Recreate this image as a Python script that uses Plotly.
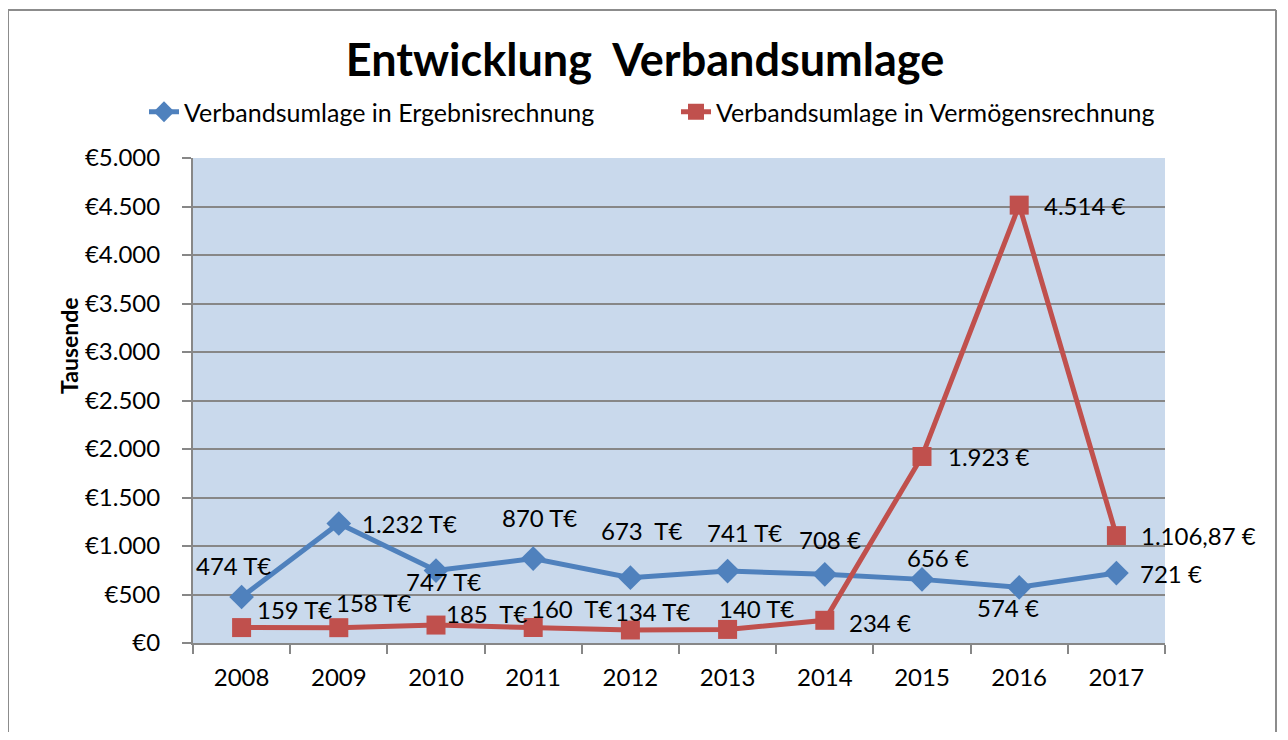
import plotly.graph_objects as go

years = ["2008", "2009", "2010", "2011", "2012", "2013", "2014", "2015", "2016", "2017"]
ergebnis = [474, 1232, 747, 870, 673, 741, 708, 656, 574, 721]
vermoegen = [159, 158, 185, 160, 134, 140, 234, 1923, 4514, 1106.87]
ergebnis_labels = ["474 T€", "1.232 T€", "747 T€", "870 T€", "673  T€", "741 T€", "708 €", "656 €", "574 €", "721 €"]
vermoegen_labels = ["159 T€", "158 T€", "185  T€", "160  T€", "134 T€", "140 T€", "234 €", "1.923 €", "4.514 €", "1.106,87 €"]
# label offsets in pixels (dx, dy) relative to the point
ergebnis_off = [(-8, 32), (71, 0), (7, -11), (6, 41), (12, 47), (17, 39), (5, 35), (16, 22), (-11, -20), (55, 0)]
vermoegen_off = [(53, 18), (35, 25), (51, 12), (39, 19), (22, 19), (29, 21), (55, -2), (66, 0), (65, 0), (82, 0)]

BLUE = "#4F81BD"
RED = "#C0504D"
GRID = "#878787"
FONT = "Lato"

OFF = 8  # page body margin
L, R, T, B = 193 - OFF, 1165 - OFF, 158 - OFF, 643 - OFF
W, H = 1280, 724

fig = go.Figure()
fig.add_trace(go.Scatter(
    x=years, y=ergebnis, mode="lines+markers", name="Verbandsumlage in Ergebnisrechnung",
    line=dict(color=BLUE, width=5), marker=dict(symbol="diamond", size=19, color=BLUE)))
fig.add_trace(go.Scatter(
    x=years, y=vermoegen, mode="lines+markers", name="Verbandsumlage in Vermögensrechnung",
    line=dict(color=RED, width=5), marker=dict(symbol="square", size=19, color=RED)))

annotations = []
for i, (v, t, (dx, dy)) in enumerate(zip(ergebnis, ergebnis_labels, ergebnis_off)):
    annotations.append(dict(x=i, y=v, xref="x", yref="y", text=t, showarrow=False,
                            xanchor="center", yanchor="middle",
                            xshift=dx, yshift=dy, font=dict(family=FONT, size=24, color="black")))
for i, (v, t, (dx, dy)) in enumerate(zip(vermoegen, vermoegen_labels, vermoegen_off)):
    annotations.append(dict(x=i, y=v, xref="x", yref="y", text=t, showarrow=False,
                            xanchor="center", yanchor="middle",
                            xshift=dx, yshift=dy, font=dict(family=FONT, size=24, color="black")))
pw, ph = R - L, B - T
annotations.append(dict(text="<b>Tausende</b>", textangle=-90, xref="paper", yref="paper",
                        x=(69 - OFF - L) / pw, y=(B - (346 - OFF)) / ph, showarrow=False,
                        xanchor="center", yanchor="middle",
                        font=dict(family=FONT, size=23, color="black")))

BORDER = "#8C8C8C"
bx0 = (8 - OFF - L) / pw
bx1 = (1268 - L) / pw
by_top = (B - (10 - OFF)) / ph
by_bot = (B - H - 10) / ph
shapes = [
    dict(type="line", xref="paper", yref="paper", x0=bx0, x1=bx0, y0=by_bot, y1=by_top,
         line=dict(color=BORDER, width=2)),
    dict(type="line", xref="paper", yref="paper", x0=bx1, x1=bx1, y0=by_bot, y1=by_top,
         line=dict(color=BORDER, width=2)),
    dict(type="line", xref="paper", yref="paper", x0=bx0, x1=bx1, y0=by_top, y1=by_top,
         line=dict(color=BORDER, width=2)),
]

fig.update_layout(
    width=W, height=H,
    margin=dict(l=L, r=W - R, t=T, b=H - B, pad=0),
    paper_bgcolor="white", plot_bgcolor="#C9D9EC",
    separators=",.",
    font=dict(family=FONT, size=24, color="black"),
    title=dict(text="<b>Entwicklung  Verbandsumlage</b>", x=(645 - OFF) / W, xanchor="center",
               y=1 - (60 - OFF) / H, yanchor="middle", font=dict(family=FONT, size=45, color="black")),
    legend=dict(orientation="h", x=(144 - OFF - L) / pw, xanchor="left", y=(B - (112 - OFF)) / ph,
                yanchor="middle", font=dict(family=FONT, size=25), entrywidth=487,
                entrywidthmode="pixels", bgcolor="rgba(0,0,0,0)"),
    annotations=annotations, shapes=shapes,
    showlegend=True,
)
fig.update_xaxes(type="category", tickson="boundaries", ticks="outside", ticklen=9, tickwidth=2,
                 tickcolor=GRID, showline=True, linecolor=GRID, linewidth=2, showgrid=False,
                 ticklabelstandoff=12, range=[-0.5, 9.5], zeroline=False,
                 tickfont=dict(family=FONT, size=24))
fig.update_yaxes(range=[0, 5000], dtick=500, tickprefix="€", tickformat=",d", ticks="outside",
                 ticklen=9, tickwidth=2, tickcolor=GRID, showline=True, linecolor=GRID, linewidth=2,
                 showgrid=True, gridcolor=GRID, gridwidth=2, zeroline=False, ticklabelstandoff=17,
                 tickfont=dict(family=FONT, size=24))

fig.write_html("out.html")
